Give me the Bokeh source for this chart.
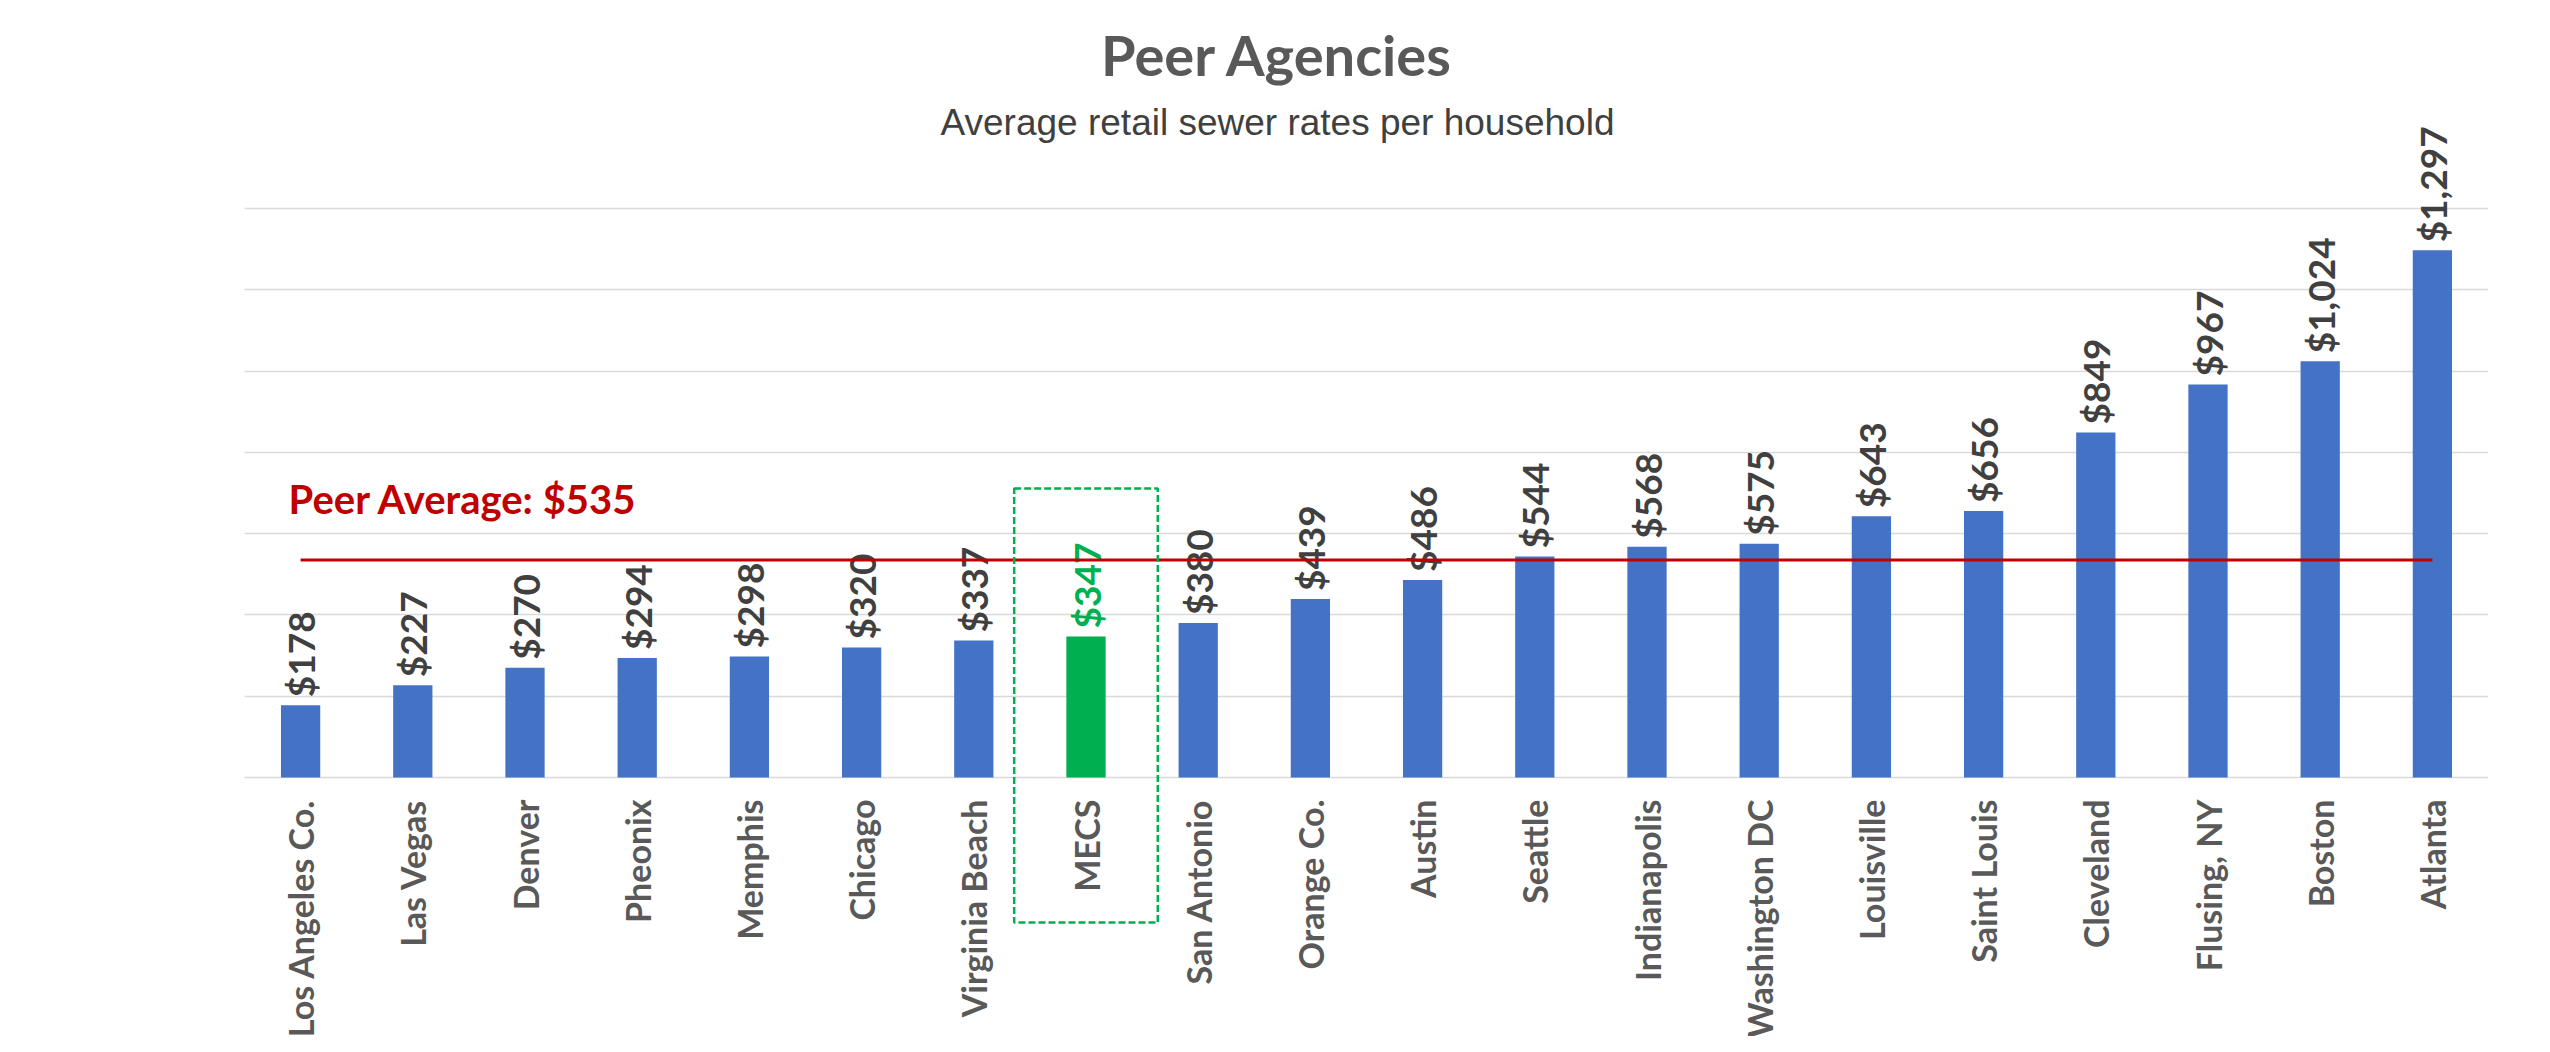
import math
from bokeh.plotting import figure
from bokeh.models import ColumnDataSource, FixedTicker, Range1d, FactorRange, BoxAnnotation, Label
from bokeh.core.properties import value
from bokeh.embed import file_html
from bokeh.resources import INLINE

# ---- data ----
categories = ["Los Angeles Co.", "Las Vegas", "Denver", "Pheonix", "Memphis", "Chicago",
              "Virginia Beach", "MECS", "San Antonio", "Orange Co.", "Austin", "Seattle",
              "Indianapolis", "Washington DC", "Louisville", "Saint Louis", "Cleveland",
              "Flusing, NY", "Boston", "Atlanta"]
rates = [178, 227, 270, 294, 298, 320, 337, 347, 380, 439, 486, 544, 568, 575, 643, 656,
         849, 967, 1024, 1297]
highlight = "MECS"
grid_values = [0, 200, 400, 600, 800, 1000, 1200, 1400]
title_text = "Peer Agencies"
subtitle_text = "Average retail sewer rates per household"

peer_average = sum(rates) / len(rates)
avg_text = "Peer Average: ${:,.0f}".format(peer_average)

BLUE = "#4472C4"
GREEN = "#00B050"
RED = "#C00000"

bar_colors = [GREEN if c == highlight else BLUE for c in categories]
label_colors = [GREEN if c == highlight else "#404040" for c in categories]
labels = ["${:,.0f}".format(v) for v in rates]

src = ColumnDataSource(dict(cat=categories, rate=rates, color=bar_colors,
                            lcolor=label_colors, label=labels))

# ---- layout (pixels) ----
W, H = 2534, 1036
FRAME_LEFT, FRAME_RIGHT = 244, 2488
BASE_Y = 777            # pixel row of the zero line
PX_PER_UNIT = 569 / 1400

p = figure(width=W, height=H, x_range=FactorRange(*categories),
           y_range=Range1d(-(H - BASE_Y) / PX_PER_UNIT, BASE_Y / PX_PER_UNIT),
           output_backend="svg", toolbar_location=None,
           min_border_left=FRAME_LEFT, min_border_right=W - FRAME_RIGHT,
           min_border_top=0, min_border_bottom=0)
p.x_range.range_padding = 0
p.outline_line_color = None
p.background_fill_color = "white"
p.border_fill_color = "white"

p.yaxis.visible = False
p.xaxis.visible = False
p.ygrid.ticker = FixedTicker(ticks=grid_values)
p.ygrid.grid_line_color = "#D9D9D9"
p.ygrid.grid_line_width = 1.5
p.xgrid.grid_line_color = None

# bars
p.vbar(x="cat", top="rate", width=0.35, source=src, fill_color="color", line_color=None)

# value labels
p.text(x="cat", y="rate", text="label", source=src, angle=math.pi / 2,
       text_align="left", text_baseline="middle", y_offset=-8,
       text_font=value("Lato"), text_font_style="bold", text_font_size="37px",
       text_color="lcolor")

# category labels (below the zero line, reading upward)
p.text(x="cat", y=0, text="cat", source=src, angle=math.pi / 2,
       text_align="right", text_baseline="middle", y_offset=22,
       text_font=value("Lato"), text_font_style="bold", text_font_size="34px",
       text_color="#595959")

# peer average line + label
p.line(x=[categories[0], categories[-1]], y=[peer_average, peer_average],
       line_color=RED, line_width=3)
p.text(x=[categories[0]], y=[peer_average], text=[avg_text], x_offset=-12, y_offset=-61,
       text_align="left", text_baseline="alphabetic",
       text_font=value("Lato"), text_font_style="bold", text_font_size="40px",
       text_color=RED)

# highlight box around MECS
hi = categories.index(highlight) + 0.5
p.add_layout(BoxAnnotation(left=hi - 0.64, right=hi + 0.64, top=711, bottom=-357,
                           fill_alpha=0, line_color=GREEN, line_alpha=1, line_width=2.5,
                           line_dash="7 3"))

# titles
cx = 1277 - FRAME_LEFT
p.add_layout(Label(x=cx, y=H - 54, x_units="screen", y_units="screen", text=title_text,
                   text_align="center", text_baseline="alphabetic",
                   text_font="Lato", text_font_style="bold", text_font_size="56px",
                   text_color="#595959"))
p.add_layout(Label(x=cx, y=H - 122, x_units="screen", y_units="screen", text=subtitle_text,
                   text_align="center", text_baseline="alphabetic",
                   text_font="Liberation Sans", text_font_size="37px",
                   text_color="#404040"))

open("out.html", "w").write(file_html(p, INLINE))
